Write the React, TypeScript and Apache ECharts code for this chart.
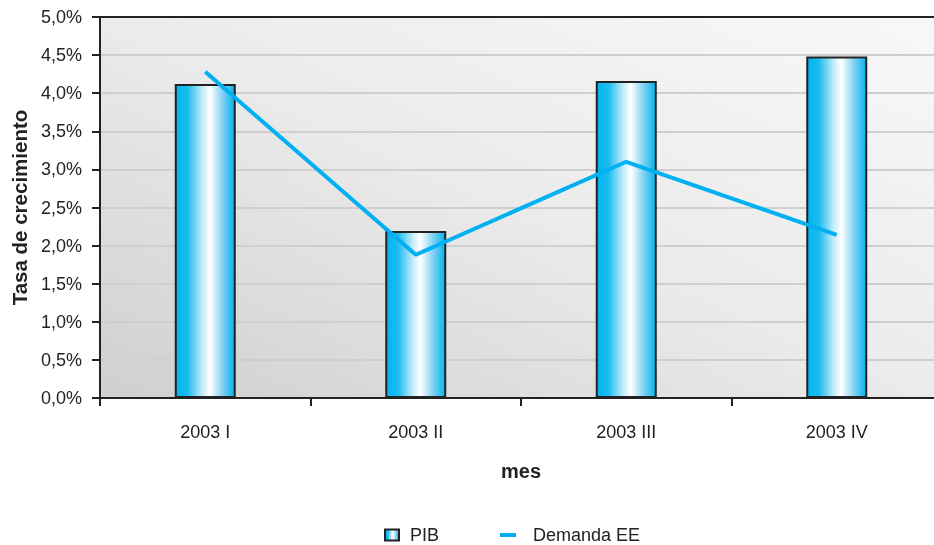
import React, { useEffect, useRef } from "react";
import * as echarts from "echarts";

const categories = ["2003 I", "2003 II", "2003 III", "2003 IV"];
const pib = [4.12, 2.19, 4.16, 4.48];
const demanda = [4.28, 1.88, 3.1, 2.14];
const yTicks = { min: 0, max: 5, interval: 0.5 };

const FONT = "Liberation Sans, Arial, sans-serif";

export default function App() {
  const ref = useRef<HTMLDivElement>(null);
  useEffect(() => {
    if (!ref.current) return;
    const chart = echarts.init(ref.current, null, { renderer: "svg" });
    const barGrad = new echarts.graphic.LinearGradient(0, 0, 1, 0, [
      { offset: 0, color: "#00b5ef" },
      { offset: 0.2, color: "#1cbcef" },
      { offset: 0.45, color: "#c5ebfa" },
      { offset: 0.58, color: "#ffffff" },
      { offset: 0.8, color: "#7ecff2" },
      { offset: 1, color: "#00b5ef" },
    ]);
    chart.setOption({
      animation: false,
      textStyle: { fontFamily: FONT },
      grid: {
        left: 100,
        top: 17,
        right: 0,
        bottom: 147,
        show: true,
        borderColor: "#222",
        borderWidth: 2,
        backgroundColor: new echarts.graphic.LinearGradient(0, 1, 1, 0, [
          { offset: 0, color: "#cfcfcf" },
          { offset: 0.5, color: "#ebebeb" },
          { offset: 1, color: "#f8f8f8" },
        ]),
      },
      legend: [
        {
          data: [{ name: "PIB", icon: "rect" }],
          left: 384,
          top: 526,
          itemWidth: 14,
          itemHeight: 11,
          padding: 0,
          textStyle: { fontSize: 18, color: "#222", fontFamily: FONT, padding: [0, 0, 0, 6] },
          itemStyle: { borderColor: "#222", borderWidth: 2 },
        },
        {
          data: [{ name: "Demanda EE", icon: "rect" }],
          left: 500,
          top: 526,
          itemWidth: 16,
          itemHeight: 4,
          padding: 0,
          textStyle: { fontSize: 18, color: "#222", fontFamily: FONT, padding: [0, 0, 0, 12] },
        },
      ],
      xAxis: [
        {
          type: "category",
          data: categories,
          name: "mes",
          nameLocation: "middle",
          nameGap: 63,
          nameTextStyle: { fontSize: 20, fontWeight: "bold", color: "#222", fontFamily: FONT },
          axisLine: { lineStyle: { color: "#222", width: 2 } },
          axisTick: { show: true, length: 8, lineStyle: { color: "#222", width: 2 } },
          axisLabel: { fontSize: 18, color: "#222", margin: 25, fontFamily: FONT },
          splitLine: { show: false },
        },
        {
          type: "category",
          data: categories,
          position: "top",
          axisLine: { show: true, lineStyle: { color: "#222", width: 2 } },
          axisTick: { show: false },
          axisLabel: { show: false },
          splitLine: { show: false },
        },
      ],
      yAxis: {
        type: "value",
        min: yTicks.min,
        max: yTicks.max,
        interval: yTicks.interval,
        name: "Tasa de crecimiento",
        nameLocation: "middle",
        nameGap: 70,
        nameTextStyle: { fontSize: 20.5, fontWeight: "bold", color: "#222", fontFamily: FONT },
        axisLine: { show: true, lineStyle: { color: "#222", width: 2 } },
        axisTick: { show: true, length: 8, lineStyle: { color: "#222", width: 2 } },
        axisLabel: {
          fontSize: 18,
          color: "#222",
          margin: 18,
          fontFamily: FONT,
          formatter: (v: number) => v.toFixed(1).replace(".", ",") + "%",
        },
        splitLine: { show: true, lineStyle: { color: "#cfcfcf", width: 2 } },
      },
      series: [
        {
          name: "PIB",
          type: "bar",
          data: pib,
          barWidth: 61,
          itemStyle: { color: barGrad, borderColor: "#222", borderWidth: 2 },
        },
        {
          name: "Demanda EE",
          type: "line",
          data: demanda,
          symbol: "none",
          lineStyle: { color: "#00b0f0", width: 4 },
          itemStyle: { color: "#00b0f0" },
        },
      ],
    });
    return () => chart.dispose();
  }, []);
  return (
    <div
      ref={ref}
      style={{ position: "fixed", left: 0, top: 0, width: 942, height: 545 }}
    />
  );
}
